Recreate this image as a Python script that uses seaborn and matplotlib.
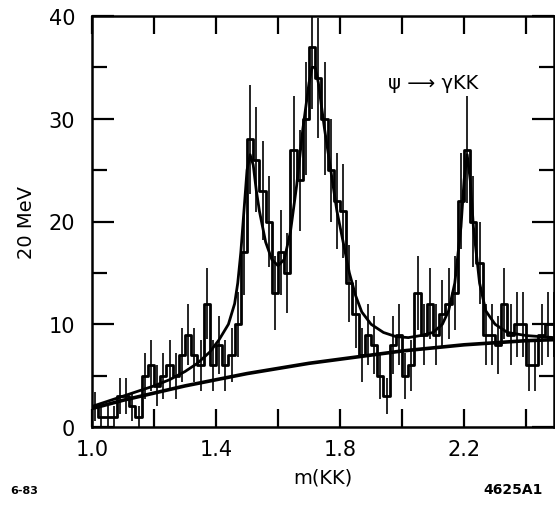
import numpy as np
import seaborn as sns
import matplotlib.pyplot as plt
from matplotlib.ticker import MultipleLocator

# 20 MeV bins, left edges from 1.00 to 2.48
bin_left = [round(1.0 + 0.02 * i, 2) for i in range(75)]
counts = [2, 1, 1, 1, 3, 3, 2, 1, 5, 6,
          4, 5, 6, 5, 7, 9, 7, 6, 12, 6,
          8, 6, 7, 10, 17, 28, 26, 23, 20, 13,
          17, 15, 27, 24, 30, 37, 34, 30, 25, 22,
          21, 14, 11, 7, 9, 8, 5, 3, 8, 9,
          5, 6, 13, 9, 12, 9, 11, 12, 13, 22,
          27, 20, 16, 9, 9, 8, 12, 9, 10, 10,
          6, 6, 9, 10, 10]

# fitted curve (resonances + background)
fit_m = [1.00, 1.05, 1.10, 1.15, 1.20, 1.25, 1.30, 1.34, 1.38, 1.41,
         1.44, 1.46, 1.47, 1.48, 1.49, 1.50, 1.51, 1.52, 1.53, 1.54,
         1.56, 1.58, 1.60, 1.62, 1.64, 1.66, 1.68, 1.70, 1.71, 1.72,
         1.73, 1.75, 1.77, 1.79, 1.81, 1.83, 1.85, 1.87, 1.90, 1.94,
         1.98, 2.02, 2.06, 2.10, 2.13, 2.15, 2.17, 2.19, 2.20, 2.21,
         2.22, 2.23, 2.25, 2.27, 2.30, 2.34, 2.40, 2.49]
fit_v = [2.0, 2.5, 3.0, 3.5, 4.0, 4.6, 5.4, 6.2, 7.3, 8.5,
         10.0, 12.0, 14.0, 17.0, 21.0, 25.0, 26.5, 25.5, 23.0, 21.0,
         18.0, 16.3, 15.7, 16.3, 19.0, 23.5, 29.0, 33.5, 35.0, 35.0,
         33.5, 29.0, 25.0, 21.0, 18.0, 15.0, 12.8, 11.2, 10.0, 9.2,
         8.8, 8.7, 8.9, 9.2, 10.0, 11.3, 14.0, 19.5, 24.0, 26.5,
         24.0, 19.5, 14.0, 11.3, 10.0, 9.2, 8.9, 8.7]

# background
bg_m = [1.00, 1.10, 1.20, 1.30, 1.40, 1.50, 1.60, 1.70, 1.80, 1.90,
        2.00, 2.10, 2.20, 2.30, 2.40, 2.49]
bg_v = [1.8, 2.6, 3.3, 4.0, 4.6, 5.2, 5.7, 6.2, 6.6, 7.0,
        7.4, 7.7, 8.0, 8.2, 8.4, 8.5]

sns.set_style("ticks")
plt.rcParams['font.family'] = ['DejaVu Sans']
plt.rcParams['text.color'] = 'black'
plt.rcParams['axes.labelcolor'] = 'black'
plt.rcParams['xtick.color'] = 'black'
plt.rcParams['ytick.color'] = 'black'
plt.rcParams['axes.edgecolor'] = 'black'

fig = plt.figure(figsize=(5.55, 5.06), dpi=100)
ax = fig.add_axes([92 / 555, 78 / 506, 462 / 555, 411 / 506])

centers = np.array(bin_left) + 0.01
edges = list(bin_left) + [2.50]
sns.histplot(x=centers, weights=counts, bins=edges, element="step",
             fill=False, color="black", linewidth=2.0, ax=ax)
ax.errorbar(centers, counts, yerr=np.sqrt(counts), fmt="none",
            ecolor="black", elinewidth=1.2, capsize=0)

sns.lineplot(x=fit_m, y=fit_v, color="black", linewidth=2.0, ax=ax)
sns.lineplot(x=bg_m, y=bg_v, color="black", linewidth=2.6, ax=ax)

ax.set_xlim(1.0, 2.49)
ax.set_ylim(0, 40)
ax.xaxis.set_major_locator(MultipleLocator(0.4))
ax.xaxis.set_minor_locator(MultipleLocator(0.2))
ax.yaxis.set_major_locator(MultipleLocator(10))
ax.yaxis.set_minor_locator(MultipleLocator(5))
ax.set_xticks([1.0, 1.4, 1.8, 2.2])
ax.set_xticklabels(["1.0", "1.4", "1.8", "2.2"])
ax.tick_params(which="both", direction="in", top=True, right=True,
               width=1.6, labelsize=15)
ax.tick_params(axis="x", which="major", length=13, pad=9)
ax.tick_params(axis="x", which="minor", length=13)
ax.tick_params(axis="y", which="major", length=16, pad=12)
ax.tick_params(axis="y", which="minor", length=11)
for s in ax.spines.values():
    s.set_linewidth(1.8)

ax.set_xlabel("m(KK)", fontsize=14, labelpad=6)
ax.set_ylabel("20 MeV", fontsize=14, labelpad=9)

ax.text(0.64, 0.825, "ψ ⟶ γKK", transform=ax.transAxes, fontsize=14)

fig.text(10 / 555, 1 - 494 / 506, "6-83", fontsize=8, fontweight="bold")
fig.text(483 / 555, 1 - 494 / 506, "4625A1", fontsize=10, fontweight="bold")

fig.savefig("out.png", dpi=100)
